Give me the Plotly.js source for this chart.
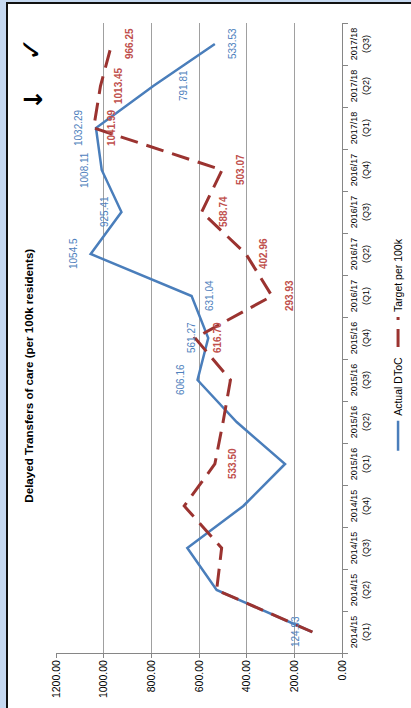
<!DOCTYPE html>
<html>
<head>
<meta charset="utf-8">
<script src="https://cdn.plot.ly/plotly-3.0.1.min.js"></script>
<style>
  html, body { margin: 0; padding: 0; background: #fff; overflow: hidden; }
  #page { position: relative; width: 411px; height: 708px; overflow: hidden; }
  /* the sheet is laid out landscape and turned a quarter turn */
  #sheet { position: absolute; left: 0; top: 0; width: 708px; height: 411px; background: #C6D9F1;
           transform-origin: 0 0; transform: translate(0, 708px) rotate(-90deg); }
  #frame { position: absolute; left: 0; top: 6px; width: 704px; height: 405px;
           border-top: 2px solid #111; border-right: 2px solid #111; background: #fff; }
  #plot { position: absolute; left: 0; top: 0; width: 704px; height: 403px; }
</style>
</head>
<body>
<div id="page"><div id="sheet"><div id="frame"><div id="plot"></div></div></div></div>
<script>
// Quarterly delayed transfers of care, per 100k residents
const quarters = [
  '2014/15 (Q1)', '2014/15 (Q2)', '2014/15 (Q3)', '2014/15 (Q4)',
  '2015/16 (Q1)', '2015/16 (Q2)', '2015/16 (Q3)', '2015/16 (Q4)',
  '2016/17 (Q1)', '2016/17 (Q2)', '2016/17 (Q3)', '2016/17 (Q4)',
  '2017/18 (Q1)', '2017/18 (Q2)', '2017/18 (Q3)'
];
const actualDToC = [124.93, 526, 649, 414, 239, 442, 606.16, 561.27, 631.04, 1054.5, 925.41, 1008.11, 1032.29, 791.81, 533.53];
const targetPer100k = [124, 526, 505, 662, 533.50, 499, 468, 616.70, 293.93, 402.96, 588.74, 503.07, 1041.99, 1013.45, 966.25];

// which points carry a value label, and on which side of the line
const actualLabelSide = ['above', null, null, null, null, null, 'above', 'above', 'below', 'above', 'above', 'above', 'above', 'farBelow', 'below'];
const targetLabelSide = [null, null, null, null, 'below', null, null, 'lower', 'below', 'below', 'lower', 'below', 'below', 'below', 'below'];
const actualDecimals = [2, 2, 2, 2, 2, 2, 2, 2, 2, 1, 2, 2, 2, 2, 2];
const targetDecimals = [2, 2, 2, 2, 2, 2, 2, 2, 2, 2, 2, 2, 2, 2, 2];

const BLUE = '#4A7EBB', BLUE_TXT = '#4F81BD';
const RED = '#9B3330', RED_TXT = '#C0504D';
const FONT = 'Liberation Sans, Arial, sans-serif';
const SHIFT = { above: 17, below: -18, lower: -22, farBelow: -30 };

function valueLabels(values, sides, decimals, color, bold) {
  const out = [];
  values.forEach((v, i) => {
    if (!sides[i]) return;
    const txt = v.toFixed(decimals[i]);
    out.push({
      x: quarters[i], y: v, xref: 'x', yref: 'y',
      text: bold ? '<b>' + txt + '</b>' : txt,
      showarrow: false, xanchor: 'center', yanchor: 'middle',
      yshift: SHIFT[sides[i]],
      font: { family: FONT, size: 10, color: color }
    });
  });
  return out;
}

const traces = [
  {
    type: 'scatter', mode: 'lines', name: 'Actual DToC',
    x: quarters, y: actualDToC,
    line: { color: BLUE, width: 2.5 }
  },
  {
    type: 'scatter', mode: 'lines', name: 'Target per 100k',
    x: quarters, y: targetPer100k,
    line: { color: RED, width: 3, dash: '18px,9px' }
  }
];

const annotations = []
  .concat(valueLabels(actualDToC, actualLabelSide, actualDecimals, BLUE_TXT, false))
  .concat(valueLabels(targetPer100k, targetLabelSide, targetDecimals, RED_TXT, true))
  .concat([
    { xref: 'paper', yref: 'paper', x: 0.878, y: 1.079, text: '<b>↓</b>', showarrow: false,
      xanchor: 'center', yanchor: 'middle', font: { family: 'DejaVu Sans', size: 25, color: '#000' } },
    { xref: 'paper', yref: 'paper', x: 0.958, y: 1.085, text: '<b>✓</b>', showarrow: false,
      xanchor: 'center', yanchor: 'middle', font: { family: 'DejaVu Sans', size: 28, color: '#000' } }
  ]);

const layout = {
  width: 704, height: 403,
  margin: { l: 55, r: 19, t: 48, b: 69, pad: 0, autoexpand: false },
  paper_bgcolor: '#fff', plot_bgcolor: '#fff',
  font: { family: FONT, color: '#000' },
  showlegend: true,
  title: {
    text: '<b>Delayed Transfers of care (per 100k residents)</b>',
    xref: 'container', yref: 'container', x: 0.472, y: 0.948,
    xanchor: 'center', yanchor: 'middle',
    font: { family: FONT, size: 11.6, color: '#000' }
  },
  xaxis: {
    type: 'category', range: [-0.5, 14.5], automargin: false,
    tickvals: quarters, ticktext: quarters.map(q => q.replace(' ', '<br>')),
    showgrid: false, showline: true, linecolor: '#868686', linewidth: 1,
    ticks: 'outside', tickson: 'boundaries', ticklen: 5, tickcolor: '#868686',
    ticklabelstandoff: 3,
    tickfont: { family: FONT, size: 9, color: '#000' }
  },
  yaxis: {
    range: [0, 1200], dtick: 200, tickformat: '.2f', automargin: false,
    showgrid: true, gridcolor: '#A0A0A0', gridwidth: 1, zeroline: false,
    showline: true, linecolor: '#868686', linewidth: 1,
    ticks: 'outside', ticklen: 4, tickcolor: '#868686',
    tickfont: { family: FONT, size: 10.5, color: '#000' }
  },
  legend: {
    orientation: 'h', x: 0.49, xanchor: 'center', y: -0.196, yanchor: 'middle',
    font: { family: FONT, size: 10.5, color: '#000' }, bgcolor: 'rgba(0,0,0,0)'
  },
  annotations: annotations
};

Plotly.newPlot('plot', traces, layout, { displayModeBar: false, staticPlot: true });
</script>
</body>
</html>
